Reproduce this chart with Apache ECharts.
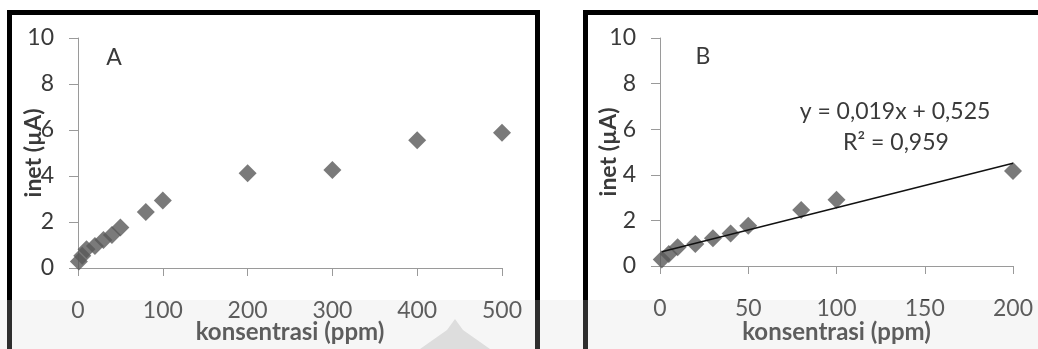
<!DOCTYPE html>
<html>
<head>
<meta charset="utf-8">
<script src="https://cdn.jsdelivr.net/npm/echarts@6/dist/echarts.min.js"></script>
<style>
html,body{margin:0;padding:0;background:#fff;}
#c{width:1038px;height:349px;}
</style>
</head>
<body>
<div id="c"></div>
<script>
// ---- data ----
const concA = [1, 5, 10, 20, 30, 40, 50, 80, 100, 200, 300, 400, 500];
const inetA = [0.28, 0.53, 0.82, 0.96, 1.22, 1.43, 1.76, 2.43, 2.93, 4.12, 4.26, 5.55, 5.88];
const concB = [1, 5, 10, 20, 30, 40, 50, 80, 100, 200];
const inetB = [0.28, 0.53, 0.82, 0.96, 1.22, 1.43, 1.76, 2.46, 2.91, 4.17];
const yTicks = [0, 2, 4, 6, 8, 10];
const xTicksA = [0, 100, 200, 300, 400, 500];
const xTicksB = [0, 50, 100, 150, 200];
const eqText = 'y = 0,019x + 0,525';
const r2Text = 'R² = 0,959';
const xTitle = 'konsentrasi (ppm)';
const yTitle = 'inet (µA)';

// least-squares trend line for panel B
function fit(xs, ys) {
  const n = xs.length;
  const mx = xs.reduce((a, b) => a + b, 0) / n;
  const my = ys.reduce((a, b) => a + b, 0) / n;
  let sxy = 0, sxx = 0;
  for (let i = 0; i < n; i++) { sxy += (xs[i] - mx) * (ys[i] - my); sxx += (xs[i] - mx) ** 2; }
  const m = sxy / sxx;
  return { m, b: my - m * mx };
}
const tr = fit(concB, inetB);
const xMinB = Math.min(...concB), xMaxB = Math.max(...concB);
const trendB = [[xMinB, tr.m * xMinB + tr.b], [xMaxB, tr.m * xMaxB + tr.b]];

const FONT = 'Lato, "Open Sans", sans-serif';
const axisGray = '#9a9a9a';
const txt = '#3a3a3a';

function xAxis(gi, max, interval, gap) {
  return {
    type: 'value', gridIndex: gi, min: 0, max: max, interval: interval,
    splitLine: { show: false },
    axisLine: { show: true, onZero: false, lineStyle: { color: axisGray, width: 1 } },
    axisTick: { show: true, inside: false, length: 8, lineStyle: { color: axisGray } },
    axisLabel: { color: txt, fontSize: 23, fontFamily: FONT, margin: 31 },
    name: xTitle, nameLocation: 'middle', nameGap: gap, nameMoveOverlap: false,
    nameTextStyle: { color: txt, fontSize: 24, fontWeight: 'bold', fontFamily: FONT }
  };
}
function yAxis(gi, gap) {
  return {
    type: 'value', gridIndex: gi, min: 0, max: 10, interval: 2,
    splitLine: { show: false },
    axisLine: { show: true, onZero: false, lineStyle: { color: axisGray, width: 1 } },
    axisTick: { show: true, inside: false, length: 9, lineStyle: { color: axisGray } },
    axisLabel: { color: txt, fontSize: 23, fontFamily: FONT, margin: 24 },
    name: yTitle, nameLocation: 'middle', nameGap: gap, nameRotate: 90, nameMoveOverlap: false,
    nameTextStyle: { color: txt, fontSize: 23, fontWeight: 'bold', fontFamily: FONT }
  };
}

const chart = echarts.init(document.getElementById('c'), null, { renderer: 'canvas' });
chart.setOption({
  animation: false,
  backgroundColor: '#ffffff',
  grid: [
    { left: 78, top: 38, width: 424, height: 233 },
    { left: 660, top: 38, width: 353, height: 231 }
  ],
  xAxis: [xAxis(0, 500, 100, 52), xAxis(1, 200, 50, 54)],
  yAxis: [yAxis(0, 33), yAxis(1, 40)],
  series: [
    {
      type: 'scatter', xAxisIndex: 0, yAxisIndex: 0, symbol: 'diamond', symbolSize: [18, 18],
      itemStyle: { color: '#595959' },
      data: concA.map((x, i) => [x, inetA[i]])
    },
    {
      type: 'scatter', xAxisIndex: 1, yAxisIndex: 1, symbol: 'diamond', symbolSize: [18, 18],
      itemStyle: { color: '#595959' },
      data: concB.map((x, i) => [x, inetB[i]])
    },
    {
      type: 'line', xAxisIndex: 1, yAxisIndex: 1, symbol: 'none', z: 5,
      lineStyle: { color: '#111', width: 1.5 },
      data: trendB
    }
  ],
  graphic: [
    { type: 'rect', z: -10, silent: true, shape: { x: 0, y: 300, width: 1038, height: 49 }, style: { fill: '#f5f5f5' } },
    { type: 'polygon', z: -5, silent: true, shape: { points: [[455, 319], [447, 330], [420, 349], [490, 349], [463, 330]] }, style: { fill: '#d6d6d6' } },
    { type: 'rect', z: 100, silent: true, shape: { x: 9.5, y: 12.5, width: 528, height: 400 }, style: { fill: 'none', stroke: '#000', lineWidth: 5 } },
    { type: 'rect', z: 100, silent: true, shape: { x: 585.5, y: 12.5, width: 500, height: 400 }, style: { fill: 'none', stroke: '#000', lineWidth: 5 } },
    { type: 'rect', z: 101, silent: true, shape: { x: 0, y: 300, width: 1038, height: 49 }, style: { fill: 'rgba(255,255,255,0.18)' } },
    { type: 'text', z: 50, style: { text: 'A', x: 114, y: 58, fill: txt, fontSize: 23, fontFamily: FONT, align: 'center', verticalAlign: 'middle' } },
    { type: 'text', z: 50, style: { text: 'B', x: 703, y: 57, fill: txt, fontSize: 23, fontFamily: FONT, align: 'center', verticalAlign: 'middle' } },
    { type: 'text', z: 50, style: { text: eqText, x: 895, y: 112, fill: txt, fontSize: 23, fontFamily: FONT, align: 'center', verticalAlign: 'middle' } },
    { type: 'text', z: 50, style: { text: r2Text, x: 896, y: 143, fill: txt, fontSize: 23, fontFamily: FONT, align: 'center', verticalAlign: 'middle' } }
  ]
});
</script>
</body>
</html>
